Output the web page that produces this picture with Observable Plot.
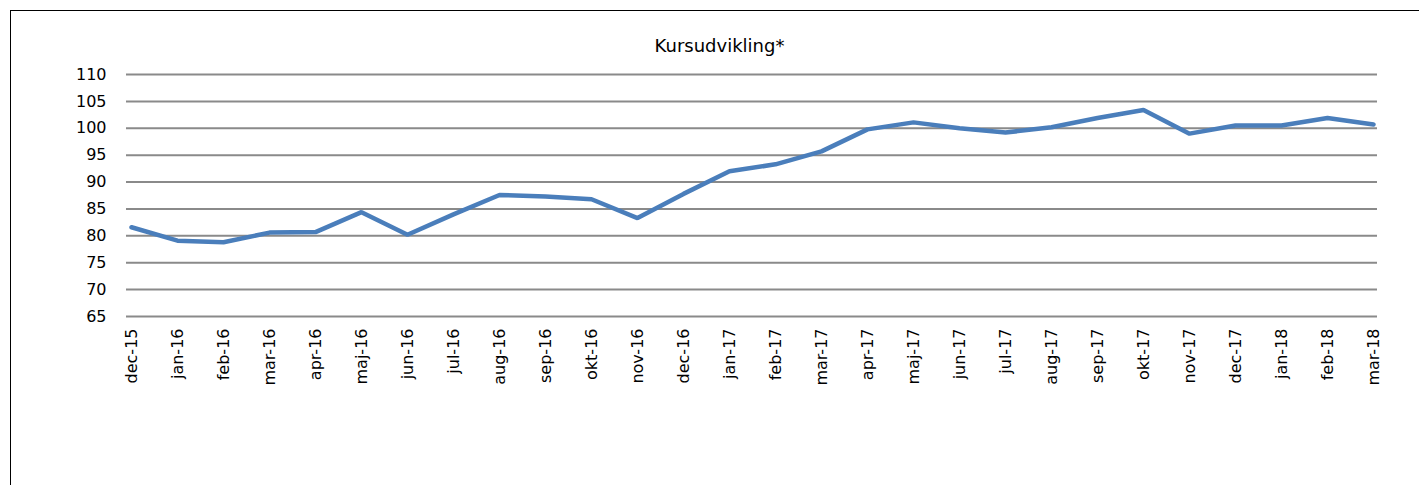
<!DOCTYPE html>
<html>
<head>
<meta charset="utf-8">
<script src="https://cdn.jsdelivr.net/npm/d3@7"></script>
<script src="https://cdn.jsdelivr.net/npm/@observablehq/plot@0.6"></script>
<style>
  html, body { margin: 0; padding: 0; background: #fff; }
  #wrap { position: relative; width: 1419px; height: 485px; overflow: hidden; background: #fff; font-family: "DejaVu Sans", sans-serif; }
  #frame { position: absolute; left: 10px; top: 10px; width: 1500px; height: 600px; border: 1.5px solid #000; box-sizing: border-box; }
  #title { position: absolute; left: 0; width: 1439px; top: 35px; text-align: center; font-size: 18px; color: #000; }
  #chart { position: absolute; left: 0; top: 60px; }
</style>
</head>
<body>
<div id="wrap">
  <div id="frame"></div>
  <div id="title">Kursudvikling*</div>
  <div id="chart"></div>
</div>
<script>
const months = ["dec-15","jan-16","feb-16","mar-16","apr-16","maj-16","jun-16","jul-16","aug-16","sep-16","okt-16","nov-16","dec-16","jan-17","feb-17","mar-17","apr-17","maj-17","jun-17","jul-17","aug-17","sep-17","okt-17","nov-17","dec-17","jan-18","feb-18","mar-18"];
const values = [81.6, 79.1, 78.8, 80.6, 80.7, 84.4, 80.2, 84.0, 87.6, 87.3, 86.8, 83.3, 87.8, 92.0, 93.3, 95.7, 99.8, 101.1, 100.0, 99.2, 100.2, 101.9, 103.4, 99.0, 100.5, 100.5, 101.9, 100.7];
const yTicks = [65, 70, 75, 80, 85, 90, 95, 100, 105, 110];

const data = months.map((m, i) => ({month: m, value: values[i]}));

const chart = Plot.plot({
  width: 1419,
  height: 425,
  marginTop: 14,
  marginBottom: 169,
  marginLeft: 126,
  marginRight: 42,
  style: {fontFamily: "DejaVu Sans, sans-serif", fontSize: "16px", color: "#000", background: "transparent"},
  x: {type: "point", domain: months, padding: 0, label: null},
  y: {domain: [65, 110], label: null},
  marks: [
    Plot.ruleY(yTicks, {stroke: "#8a8a8a", strokeWidth: 2}),
    Plot.axisY({ticks: yTicks, tickSize: 0, tickPadding: 20, label: null, fontSize: 16}),
    Plot.axisX({tickRotate: -90, tickSize: 0, tickPadding: 12, label: null, fontSize: 16}),
    Plot.line(data, {x: "month", y: "value", stroke: "#4a7ebb", strokeWidth: 4.5, strokeLinejoin: "miter", strokeLinecap: "round"})
  ]
});
document.getElementById("chart").appendChild(chart);
</script>
</body>
</html>
